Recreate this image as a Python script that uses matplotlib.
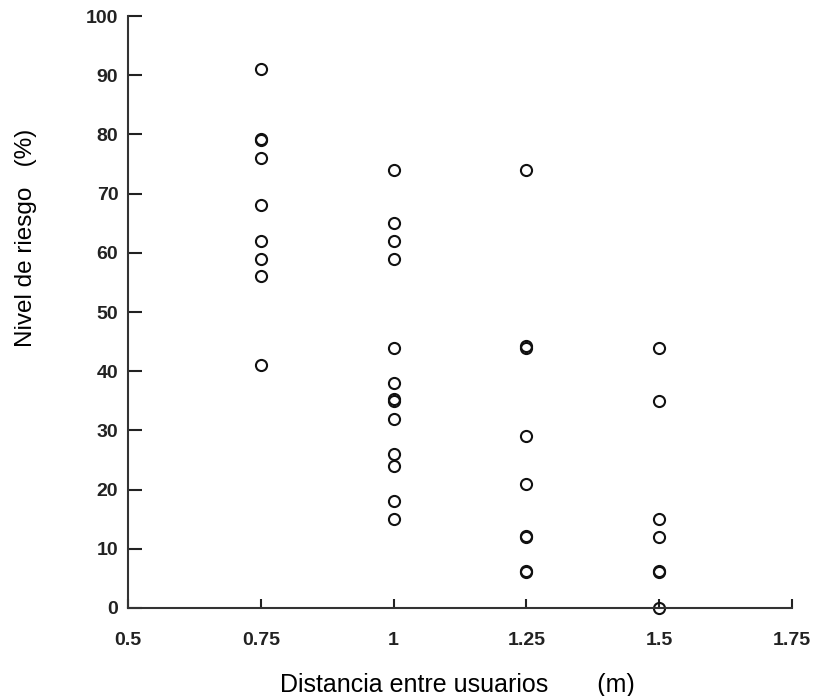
import numpy as np
import matplotlib.pyplot as plt

# distance between users (m) and risk level (%)
x_075 = [0.75] * 9
y_075 = [91, 79, 79.3, 76, 68, 62, 59, 56, 41]
x_100 = [1.0] * 13
y_100 = [74, 65, 62, 59, 44, 38, 35, 35.3, 32, 26, 24, 18, 15]
x_125 = [1.25] * 9
y_125 = [74, 44, 44.2, 29, 21, 12, 12.2, 6, 6.2]
x_150 = [1.5] * 7
y_150 = [44, 35, 15, 12, 6, 6.2, 0]

xticks = [0.5, 0.75, 1, 1.25, 1.5, 1.75]
xtick_labels = ['0.5', '0.75', '1', '1.25', '1.5', '1.75']
yticks = np.arange(0, 101, 10)

plt.rcParams['font.family'] = ['Liberation Sans', 'DejaVu Sans']

fig = plt.figure(figsize=(8.13, 6.96), dpi=100)
ax = fig.add_axes([128 / 813, 1 - 608 / 696, (792 - 128) / 813, (608 - 16) / 696])

xs = x_075 + x_100 + x_125 + x_150
ys = y_075 + y_100 + y_125 + y_150
ax.plot(xs, ys, 'o', markerfacecolor='none', markeredgecolor='#111111',
        markersize=8, markeredgewidth=1.5, linestyle='none', clip_on=False)

ax.set_xlim(0.5, 1.75)
ax.set_ylim(0, 100)
ax.set_xticks(xticks)
ax.set_xticklabels(xtick_labels)
ax.set_yticks(yticks)

for s in ['top', 'right']:
    ax.spines[s].set_visible(False)
for s in ['left', 'bottom']:
    ax.spines[s].set_linewidth(1.5)
    ax.spines[s].set_color('#333333')

ax.tick_params(axis='y', direction='in', length=10, width=1.5, color='#222222',
               pad=7, labelsize=14)
ax.tick_params(axis='x', direction='in', length=6.5, width=1.5, color='#222222',
               pad=17, labelsize=14)
for lab in ax.get_xticklabels() + ax.get_yticklabels():
    lab.set_fontweight('bold')
    lab.set_color('#222222')

ax.set_xlabel('Distancia entre usuarios       (m)', fontsize=18)
ax.set_ylabel('Nivel de riesgo   (%)', fontsize=17.5)
ax.xaxis.set_label_coords((457 - 128) / 664, (608 - 673) / 592)
ax.yaxis.set_label_coords((37 - 128) / 664, (608 - 238) / 592)

fig.savefig('out.png', dpi=100)
